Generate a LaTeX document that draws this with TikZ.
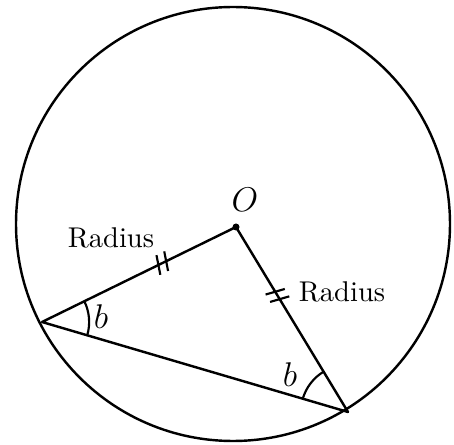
\documentclass[tikz,border=0pt]{standalone}
\usepackage{amsmath}
\usetikzlibrary{calc, angles}
\tikzset{
  geo/.style     = {line width=0.85pt, line cap=round, line join=round},
  tickmark/.style= {line width=0.75pt},
  angarc/.style  = {draw, line width=0.75pt, angle radius=16.5pt},
  lbl/.style     = {font=\normalsize, inner sep=1pt},
  mlbl/.style    = {font=\large, inner sep=1pt},
}

\begin{document}
\begin{tikzpicture}[x=0.35pt, y=-0.35pt]
    \useasboundingbox (0,0) rectangle (454,445);

    \coordinate (C) at (233,224);
    \coordinate (O) at (236,227);
    \coordinate (A) at (42,322);
    \coordinate (B) at (348,412);

    \draw[geo] (C) circle[radius=217];
    \draw[geo] (A) -- (O) -- (B) -- cycle;
    \fill (O) circle[radius=3.5];

    % equal angles at the base
    \pic[angarc] {angle = B--A--O};
    \pic[angarc] {angle = O--B--A};

    % double ticks on both radii
    \foreach \t in {0.60,0.64}{
      \coordinate (ta) at ($(A)!\t!(O)$);
      \draw[tickmark] ($(ta)!3.5pt!75:(O)$) -- ($(ta)!3.5pt!-105:(O)$);
    }
    \foreach \t in {0.35,0.39}{
      \coordinate (tb) at ($(O)!\t!(B)$);
      \draw[tickmark] ($(tb)!3.5pt!75:(B)$) -- ($(tb)!3.5pt!-105:(B)$);
    }

    \node[mlbl] (lo)  at (245,200) {$O$};
    \node[lbl]  (ra)  at (111,238) {Radius};
    \node[lbl]  (rb)  at (342,292) {Radius};
    \node[mlbl] (ba)  at (101,317) {$b$};
    \node[mlbl] (bb)  at (290,375) {$b$};
\end{tikzpicture}
\end{document}
